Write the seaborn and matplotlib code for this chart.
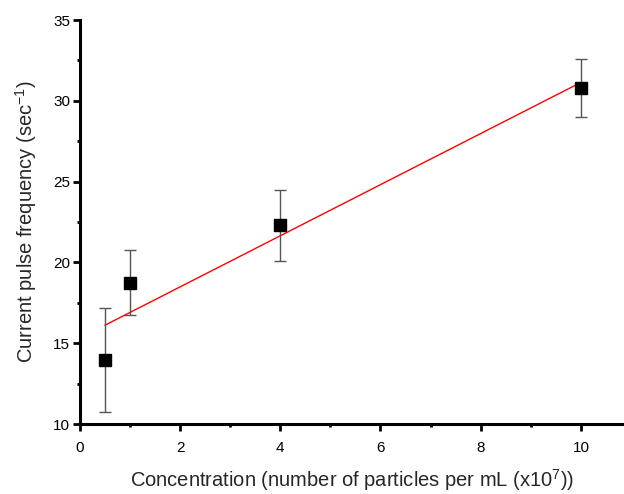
import matplotlib
matplotlib.use("Agg")
import matplotlib.pyplot as plt
import seaborn as sns
import numpy as np
import pandas as pd
from matplotlib.ticker import MultipleLocator

concentration = [0.5, 1.0, 4.0, 10.0]
frequency = [13.95, 18.75, 22.3, 30.8]
error = [3.2, 2.0, 2.2, 1.8]

sns.set_style("white")
plt.rcParams['font.family'] = ['Liberation Sans', 'DejaVu Sans']
plt.rcParams['mathtext.fontset'] = 'custom'
plt.rcParams['mathtext.rm'] = 'Liberation Sans'
plt.rcParams['mathtext.it'] = 'Liberation Sans'

df = pd.DataFrame({"x": concentration, "y": frequency, "err": error})

fig = plt.figure(figsize=(6.24, 4.94), dpi=100)
ax = fig.add_axes([0.128, 0.1417, 0.872, 0.8178])

sns.regplot(data=df, x="x", y="y", ax=ax, ci=None, scatter=False,
            line_kws=dict(color="red", lw=1.0))
ax.errorbar(df["x"], df["y"], yerr=df["err"], fmt="none", ecolor="#555555",
            elinewidth=1.0, capsize=4, capthick=1.0, zorder=3)
ax.plot(df["x"], df["y"], "s", color="black", markersize=8.5, zorder=4)

ax.set_xlim(0, 10.86)
ax.set_ylim(10, 35)
ax.xaxis.set_major_locator(MultipleLocator(2))
ax.xaxis.set_minor_locator(MultipleLocator(1))
ax.yaxis.set_major_locator(MultipleLocator(5))
ax.yaxis.set_minor_locator(MultipleLocator(2.5))

for s in ["top", "right"]:
    ax.spines[s].set_visible(False)
for s in ["left", "bottom"]:
    ax.spines[s].set_linewidth(2.2)
    ax.spines[s].set_color("black")

ax.tick_params(which="major", direction="out", length=5, width=2, labelsize=11,
               bottom=True, left=True, colors="black")
ax.tick_params(which="minor", direction="out", length=2.5, width=2,
               bottom=True, left=True, colors="black")
ax.tick_params(axis="x", which="major", pad=7)
ax.tick_params(axis="y", which="major", pad=2)

ax.set_xlabel("Concentration (number of particles per mL (x10$^{7}$))", fontsize=14.5, labelpad=9)
ax.set_ylabel("Current pulse frequency (sec$^{-1}$)", fontsize=14.5, labelpad=10)

fig.savefig("out.png", dpi=100)
